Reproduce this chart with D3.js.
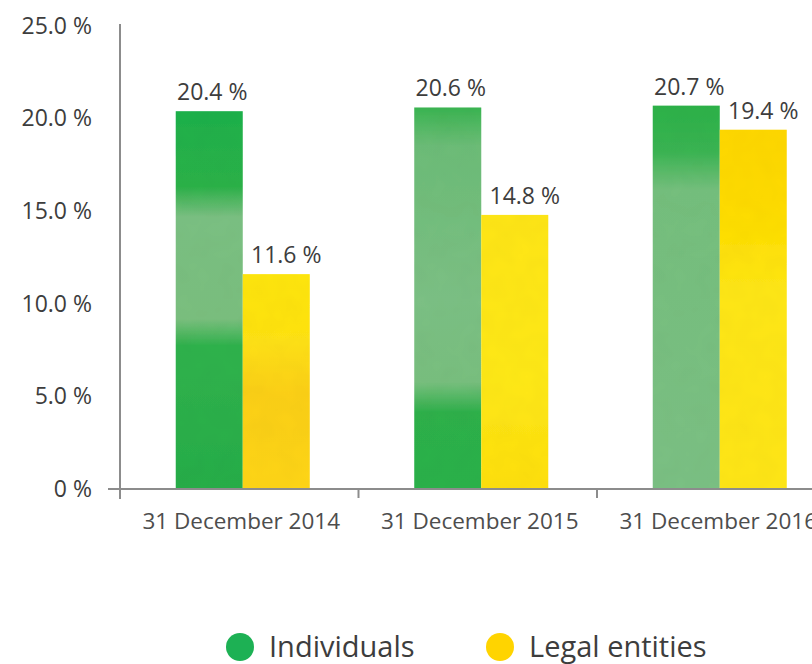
<!DOCTYPE html>
<html>
<head>
<meta charset="utf-8">
<script src="https://cdn.jsdelivr.net/npm/d3@7"></script>
<style>
	html, body { margin: 0; padding: 0; background: #fff; }
	svg { display: block; font-family: "Open Sans", "Noto Sans", sans-serif; }
</style>
</head>
<body>
<script>
// Data
const categories = ["31 December 2014", "31 December 2015", "31 December 2016"];
const seriesNames = ["Individuals", "Legal entities"];
const individuals = [20.4, 20.6, 20.7];
const legalEntities = [11.6, 14.8, 19.4];
const yTicks = [0, 5, 10, 15, 20, 25];

const width = 812;
const height = 664;

// Base colours, plus a watercolour-ish wash for each bar (offset from top, colour)
const colors = { "Individuals": "#1db154", "Legal entities": "#ffd400" };
const washes = {
	"Individuals": [
		[[0, "#22b14c"], [0.2, "#2fb24a"], [0.28, "#7cc183"], [0.55, "#7bc07f"], [0.62, "#33b34e"], [1, "#2aae4a"]],
		[[0, "#3cb552"], [0.1, "#6dbd78"], [0.5, "#7dc185"], [0.72, "#79c07f"], [0.8, "#30b14b"], [1, "#2eb24b"]],
		[[0, "#2fb24a"], [0.12, "#3cb553"], [0.22, "#76c07e"], [1, "#7cc184"]]
	],
	"Legal entities": [
		[[0, "#ffe612"], [0.3, "#ffe31a"], [0.55, "#fcd01a"], [0.8, "#fdd31c"], [1, "#ffd61c"]],
		[[0, "#ffe61c"], [0.6, "#ffe91e"], [1, "#ffe014"]],
		[[0, "#ffd800"], [0.2, "#ffdc08"], [0.45, "#ffe71c"], [1, "#ffe61c"]]
	]
};

const rows = categories.map((c, i) => ({
	category: c,
	values: [
		{ key: "Individuals", value: individuals[i], index: i },
		{ key: "Legal entities", value: legalEntities[i], index: i }
	]
}));

// Scales
const x = d3.scaleBand()
	.domain(categories)
	.range([120, 120 + 3 * 238.5])
	.padding(0);

const xInner = d3.scaleBand()
	.domain(seriesNames)
	.range([0, 134])
	.padding(0);

const y = d3.scaleLinear()
	.domain([0, 25])
	.range([489, 26]);

const svg = d3.select("body")
	.append("svg")
	.attr("width", width)
	.attr("height", height);

// Gradients that fake the painted texture
const defs = svg.append("defs");
seriesNames.forEach((s) => {
	washes[s].forEach((stops, i) => {
		const g = defs.append("linearGradient")
			.attr("id", `wash-${s === "Individuals" ? "ind" : "leg"}-${i}`)
			.attr("x1", 0).attr("y1", 0)
			.attr("x2", 0).attr("y2", 1);
		g.selectAll("stop")
			.data(stops)
			.join("stop")
			.attr("offset", (d) => d[0])
			.attr("stop-color", (d) => d[1]);
	});
});

const filter = defs.append("filter").attr("id", "grain");
filter.append("feTurbulence")
	.attr("type", "fractalNoise")
	.attr("baseFrequency", 0.05)
	.attr("numOctaves", 2)
	.attr("seed", 3)
	.attr("result", "noise");
filter.append("feColorMatrix")
	.attr("in", "noise")
	.attr("type", "matrix")
	.attr("values", "0 0 0 0 0  0 0 0 0 0  0 0 0 0 0  0 0 0 0.06 0")
	.attr("result", "shade");
filter.append("feComposite")
	.attr("in", "shade")
	.attr("in2", "SourceGraphic")
	.attr("operator", "in")
	.attr("result", "shadeIn");
filter.append("feMerge")
	.call((m) => {
		m.append("feMergeNode").attr("in", "SourceGraphic");
		m.append("feMergeNode").attr("in", "shadeIn");
	});

// Bars
const groupOffset = (x.bandwidth() - xInner.range()[1]) / 2 + 3.5;

const group = svg.append("g")
	.selectAll("g")
	.data(rows)
	.join("g")
	.attr("transform", (d) => `translate(${x(d.category) + groupOffset},0)`);

group.selectAll("rect")
	.data((d) => d.values)
	.join("rect")
	.attr("x", (d) => xInner(d.key))
	.attr("y", (d) => y(d.value))
	.attr("width", xInner.bandwidth())
	.attr("height", (d) => y(0) - y(d.value))
	.attr("fill", (d) => `url(#wash-${d.key === "Individuals" ? "ind" : "leg"}-${d.index})`)
	.attr("filter", "url(#grain)");

// Value labels
group.selectAll("text")
	.data((d) => d.values)
	.join("text")
	.attr("x", (d) => xInner(d.key) + xInner.bandwidth() / 2 + (d.key === "Individuals" ? 3 : 10))
	.attr("y", (d) => y(d.value) - 11)
	.attr("text-anchor", "middle")
	.attr("fill", "#3d3d3d")
	.attr("font-size", 23)
	.text((d) => `${d.value.toFixed(1)} %`);

// Y axis: labels only, with a plain vertical rule
const yAxis = svg.append("g")
	.attr("transform", "translate(120,0)")
	.call(d3.axisLeft(y)
		.tickValues(yTicks)
		.tickSize(0)
		.tickPadding(28)
		.tickFormat((d) => d === 0 ? "0 %" : `${d.toFixed(1)} %`));

yAxis.select(".domain").remove();
yAxis.selectAll("text")
	.attr("font-size", 23)
	.attr("font-family", "\"Open Sans\", sans-serif")
	.attr("fill", "#3d3d3d");

svg.append("line")
	.attr("x1", 120).attr("x2", 120)
	.attr("y1", 24).attr("y2", 499)
	.attr("stroke", "#8c8c8c")
	.attr("stroke-width", 2);

// X axis: baseline, ticks on the band edges, labels centred
svg.append("line")
	.attr("x1", 108).attr("x2", width)
	.attr("y1", y(0)).attr("y2", y(0))
	.attr("stroke", "#8c8c8c")
	.attr("stroke-width", 2);

svg.append("g")
	.selectAll("line")
	.data(categories.slice(1))
	.join("line")
	.attr("x1", (d) => x(d)).attr("x2", (d) => x(d))
	.attr("y1", y(0)).attr("y2", y(0) + 9)
	.attr("stroke", "#8c8c8c")
	.attr("stroke-width", 2);

svg.append("g")
	.selectAll("text")
	.data(categories)
	.join("text")
	.attr("x", (d) => x(d) + x.bandwidth() / 2 + 2)
	.attr("y", 529)
	.attr("text-anchor", "middle")
	.attr("font-size", 22.5)
	.attr("fill", "#4d4d4d")
	.text((d) => d);

// Legend
const legend = svg.append("g")
	.selectAll("g")
	.data(seriesNames)
	.join("g")
	.attr("transform", (d, i) => `translate(${[240, 500][i]},647)`);

legend.append("circle")
	.attr("r", 14)
	.attr("fill", (d) => colors[d]);

legend.append("text")
	.attr("x", 29)
	.attr("y", 10)
	.attr("font-size", 29)
	.attr("fill", "#3d3d3d")
	.text((d) => d);
</script>
</body>
</html>
